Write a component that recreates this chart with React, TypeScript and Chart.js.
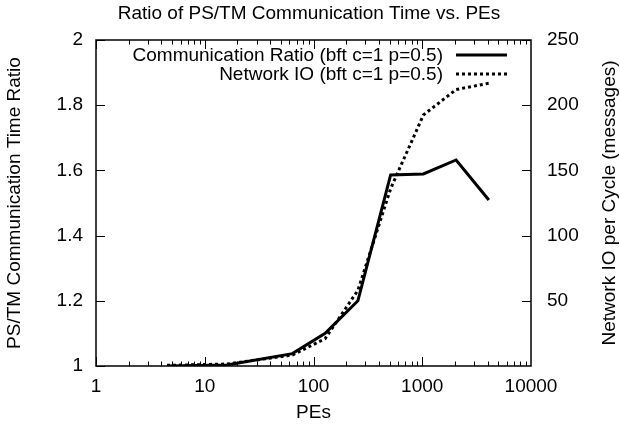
import React, { useEffect, useRef } from "react";
import { Chart, registerables } from "chart.js";

Chart.register(...registerables);

const chartTitle = "Ratio of PS/TM Communication Time vs. PEs";
const xTitle = "PEs";
const leftTitle = "PS/TM Communication Time Ratio";
const rightTitle = "Network IO per Cycle (messages)";

const pes = [4.5, 16, 64, 128, 256, 512, 1024, 2048, 4096];
const commRatio = [1.0, 1.003, 1.038, 1.1, 1.2, 1.586, 1.589, 1.632, 1.509];
const networkIO = [0.5, 1.5, 8.4, 21, 58, 136, 192.5, 212, 216.8];

const seriesLabels = ["Communication Ratio (bft c=1 p=0.5)", "Network IO (bft c=1 p=0.5)"];

const xTicks = [1, 10, 100, 1000, 10000];
const leftTicks = [1, 1.2, 1.4, 1.6, 1.8, 2];
const rightTicks = [50, 100, 150, 200, 250];

const FONT = "'Liberation Sans', Arial, Helvetica, sans-serif";
const FS = 19;

const framePlugin = {
  id: "gnuplotFrame",
  afterDatasetsDraw(chart: any) {
    const ctx = chart.ctx as CanvasRenderingContext2D;
    const { left, right, top, bottom } = chart.chartArea;
    const xs = chart.scales.x;
    const ys = chart.scales.y;
    const y2 = chart.scales.y2;
    ctx.save();
    ctx.strokeStyle = "#000";
    ctx.lineWidth = 1.5;
    ctx.strokeRect(left, top, right - left, bottom - top);
    ctx.lineWidth = 1;
    ctx.beginPath();
    const major = 9;
    const minor = 4.5;
    for (let e = 0; e < 4; e++) {
      for (let m = 1; m <= 9; m++) {
        const v = m * Math.pow(10, e);
        const px = Math.round(xs.getPixelForValue(v)) + 0.5;
        const len = m === 1 ? major : minor;
        ctx.moveTo(px, bottom);
        ctx.lineTo(px, bottom - len);
        ctx.moveTo(px, top);
        ctx.lineTo(px, top + len);
      }
    }
    leftTicks.forEach((v) => {
      const py = Math.round(ys.getPixelForValue(v)) + 0.5;
      ctx.moveTo(left, py);
      ctx.lineTo(left + major, py);
    });
    rightTicks.forEach((v) => {
      const py = Math.round(y2.getPixelForValue(v)) + 0.5;
      ctx.moveTo(right, py);
      ctx.lineTo(right - major, py);
    });
    ctx.stroke();

    // legend
    ctx.font = `${FS}px ${FONT}`;
    ctx.fillStyle = "#000";
    ctx.textAlign = "right";
    ctx.textBaseline = "middle";
    const rows = [55, 74];
    chart.data.datasets.forEach((ds: any, i: number) => {
      const y = rows[i];
      ctx.fillText(seriesLabels[i], 443, y + 1);
      ctx.beginPath();
      ctx.lineWidth = ds.borderWidth;
      ctx.setLineDash(ds.borderDash || []);
      ctx.moveTo(456, y);
      ctx.lineTo(507, y);
      ctx.stroke();
      ctx.setLineDash([]);
    });

    // chart title
    ctx.textAlign = "center";
    ctx.fillText(chartTitle, 309, 14);

    // right axis title (reads bottom-to-top like gnuplot)
    ctx.translate(610, (top + bottom) / 2);
    ctx.rotate(-Math.PI / 2);
    ctx.fillText(rightTitle, 0, 0);
    ctx.restore();
  },
};

export default function App() {
  const ref = useRef<HTMLCanvasElement>(null);

  useEffect(() => {
    if (!ref.current) return;
    Chart.defaults.font.family = FONT;
    Chart.defaults.font.size = FS;
    Chart.defaults.color = "#000";
    const chart = new Chart(ref.current, {
      type: "line",
      data: {
        datasets: [
          {
            label: seriesLabels[0],
            data: pes.map((x, i) => ({ x, y: commRatio[i] })),
            borderColor: "#000",
            borderWidth: 3,
            pointRadius: 0,
            tension: 0,
            yAxisID: "y",
            borderJoinStyle: "miter",
          },
          {
            label: seriesLabels[1],
            data: pes.map((x, i) => ({ x, y: networkIO[i] })),
            borderColor: "#000",
            borderWidth: 3,
            borderDash: [3, 3],
            pointRadius: 0,
            tension: 0,
            yAxisID: "y2",
          },
        ],
      },
      options: {
        animation: false,
        responsive: false,
        devicePixelRatio: 1,
        layout: { padding: { top: 40, left: 0, right: 0, bottom: 0 } },
        plugins: {
          legend: { display: false },
          title: { display: false },
          tooltip: { enabled: false },
        },
        scales: {
          x: {
            type: "logarithmic",
            min: 1,
            max: 10000,
            grid: { display: false, drawTicks: false },
            border: { display: false },
            afterBuildTicks: (s: any) => {
              s.ticks = xTicks.map((v) => ({ value: v }));
            },
            afterFit: (s: any) => {
              s.height = 62;
            },
            ticks: {
              autoSkip: false,
              maxRotation: 0,
              padding: 9,
              callback: (v: any) => String(v),
            },
            title: {
              display: true,
              text: xTitle,
              padding: { top: 0, bottom: 4 },
            },
          },
          y: {
            type: "linear",
            position: "left",
            min: 1,
            max: 2,
            grid: { display: false, drawTicks: false },
            border: { display: false },
            afterBuildTicks: (s: any) => {
              s.ticks = leftTicks.map((v) => ({ value: v }));
            },
            afterFit: (s: any) => {
              s.width = 96;
            },
            ticks: {
              padding: 13,
              callback: (v: any) => String(Math.round(v * 10) / 10),
            },
            title: {
              display: true,
              text: leftTitle,
              padding: { top: 3, bottom: 0 },
            },
          },
          y2: {
            type: "linear",
            position: "right",
            min: 0,
            max: 250,
            grid: { display: false, drawTicks: false },
            border: { display: false },
            afterBuildTicks: (s: any) => {
              s.ticks = rightTicks.map((v) => ({ value: v }));
            },
            afterFit: (s: any) => {
              s.width = 89;
            },
            ticks: {
              padding: 16,
              callback: (v: any) => String(v),
            },
          },
        },
      },
      plugins: [framePlugin],
    });
    return () => chart.destroy();
  }, []);

  return (
    <div style={{ position: "fixed", left: 0, top: 0, width: 620, height: 428, background: "#fff" }}>
      <canvas ref={ref} width={620} height={428} style={{ display: "block" }} />
    </div>
  );
}
